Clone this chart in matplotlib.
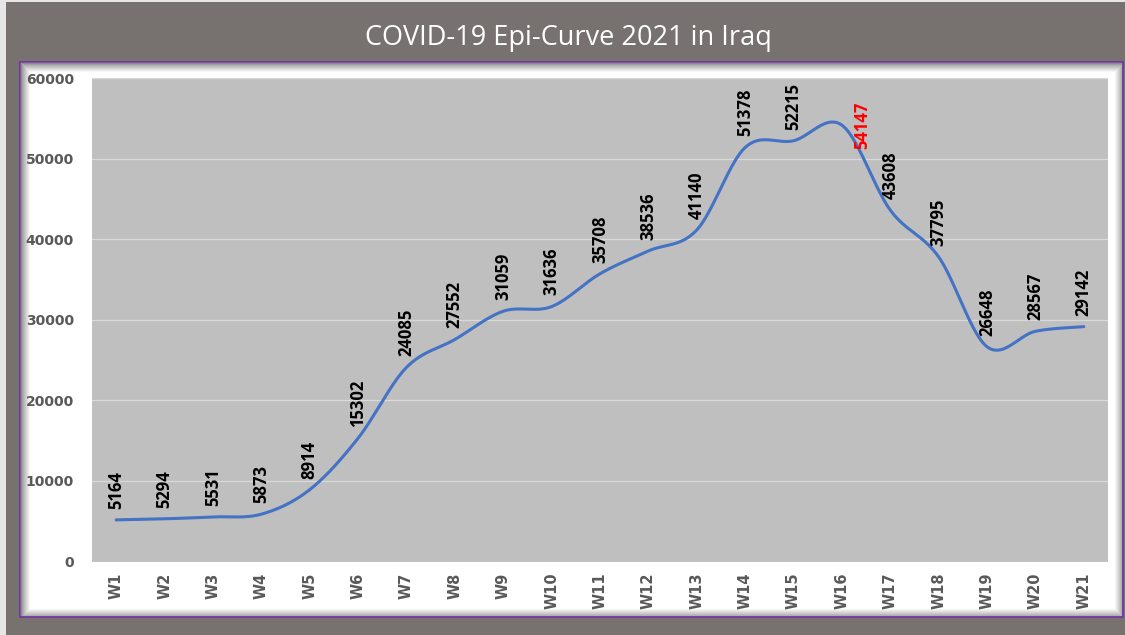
import numpy as np
import matplotlib.pyplot as plt
from matplotlib.patches import Rectangle

weeks = ["W%d" % i for i in range(1, 22)]
cases = [5164, 5294, 5531, 5873, 8914, 15302, 24085, 27552, 31059, 31636,
         35708, 38536, 41140, 51378, 52215, 54147, 43608, 37795, 26648, 28567, 29142]
peak_week = "W16"
title = "COVID-19 Epi-Curve 2021 in Iraq"


def smooth_curve(xs, ys, n=40):
    # Excel-like smoothed line: Catmull-Rom segments drawn as cubic Bezier
    px = np.asarray(xs, float)
    py = np.asarray(ys, float)
    ex = np.concatenate([[px[0]], px, [px[-1]]])
    ey = np.concatenate([[py[0]], py, [py[-1]]])
    out_x, out_y = [], []
    t = np.linspace(0, 1, n)
    for k in range(1, len(ex) - 2):
        x0, x1, x2, x3 = ex[k - 1:k + 3]
        y0, y1, y2, y3 = ey[k - 1:k + 3]
        b1x, b1y = x1 + (x2 - x0) / 6, y1 + (y2 - y0) / 6
        b2x, b2y = x2 - (x3 - x1) / 6, y2 - (y3 - y1) / 6
        bx = (1 - t) ** 3 * x1 + 3 * (1 - t) ** 2 * t * b1x + 3 * (1 - t) * t ** 2 * b2x + t ** 3 * x2
        by = (1 - t) ** 3 * y1 + 3 * (1 - t) ** 2 * t * b1y + 3 * (1 - t) * t ** 2 * b2y + t ** 3 * y2
        out_x.extend(bx)
        out_y.extend(by)
    return np.array(out_x), np.array(out_y)


W, H = 1125, 635
fig = plt.figure(figsize=(W / 100, H / 100), dpi=100, facecolor="#777170")

# light strip on the left/top edge
fig.patches.append(Rectangle((0, 0), 6 / W, 1, transform=fig.transFigure,
                             facecolor="#e6e6e6", edgecolor="none", zorder=-3))
fig.patches.append(Rectangle((0, 1 - 2 / H), 1, 2 / H, transform=fig.transFigure,
                             facecolor="#e6e6e6", edgecolor="none", zorder=-3))

# chart area with inner glow
cx0, cx1, cy0, cy1 = 20, 1123, 62, 617
fig.patches.append(Rectangle((cx0 / W, 1 - cy1 / H), (cx1 - cx0) / W, (cy1 - cy0) / H,
                             transform=fig.transFigure, facecolor="white",
                             edgecolor="none", zorder=-2))
for s in range(10):
    g = 0.55 + 0.45 * (s / 9) ** 0.8
    fig.patches.append(Rectangle(((cx0 + s + 0.5) / W, 1 - (cy1 - s - 0.5) / H),
                                 (cx1 - cx0 - 2 * s - 1) / W, (cy1 - cy0 - 2 * s - 1) / H,
                                 transform=fig.transFigure, facecolor="none",
                                 edgecolor=(g, g, g), lw=0.8, zorder=-1.5))
fig.patches.append(Rectangle((cx0 / W, 1 - cy1 / H), (cx1 - cx0) / W, (cy1 - cy0) / H,
                             transform=fig.transFigure, facecolor="none",
                             edgecolor="#7030a0", lw=1.2, zorder=-1))

fig.text(568 / W, 1 - 38 / H, title, color="white", fontsize=19.5,
         family="Open Sans", ha="center", va="center")

ax = fig.add_axes([92 / W, 1 - 561.5 / H, 1016 / W, (561.5 - 78) / H])
ax.set_zorder(2)
ax.set_facecolor("#bfbfbf")
x = np.arange(len(weeks))
sx, sy = smooth_curve(x, cases)
ax.plot(sx, sy, color="#4472c4", lw=2.2, solid_capstyle="round", zorder=3)

ax.set_xlim(-0.5, len(weeks) - 0.5)
ax.set_ylim(0, 60000)
ax.set_yticks(range(0, 60001, 10000))
ax.set_xticks(x)
ax.set_xticklabels(weeks, rotation=90)
ax.grid(axis="y", color="#d9d9d9", lw=0.9)
ax.set_axisbelow(True)
for sp in ax.spines.values():
    sp.set_visible(False)
ax.tick_params(length=0)
ax.tick_params(axis="y", pad=13, labelsize=10, labelcolor="#595959")
ax.tick_params(axis="x", pad=8, labelsize=10.5, labelcolor="#595959")
for lbl in ax.get_xticklabels() + ax.get_yticklabels():
    lbl.set_fontweight("bold")

for i, (wk, v) in enumerate(zip(weeks, cases)):
    if wk == peak_week:
        ax.annotate(str(v), (i, v), xytext=(15, 0), textcoords="offset points",
                    rotation=90, ha="center", va="center", color="red",
                    fontsize=12, fontweight="bold", family="Open Sans", zorder=4)
    else:
        ax.annotate(str(v), (i, v), xytext=(0, 8), textcoords="offset points",
                    rotation=90, ha="center", va="bottom", color="black",
                    fontsize=12, fontweight="bold", family="Open Sans", zorder=4)

fig.savefig("out.png", dpi=100, facecolor=fig.get_facecolor())
